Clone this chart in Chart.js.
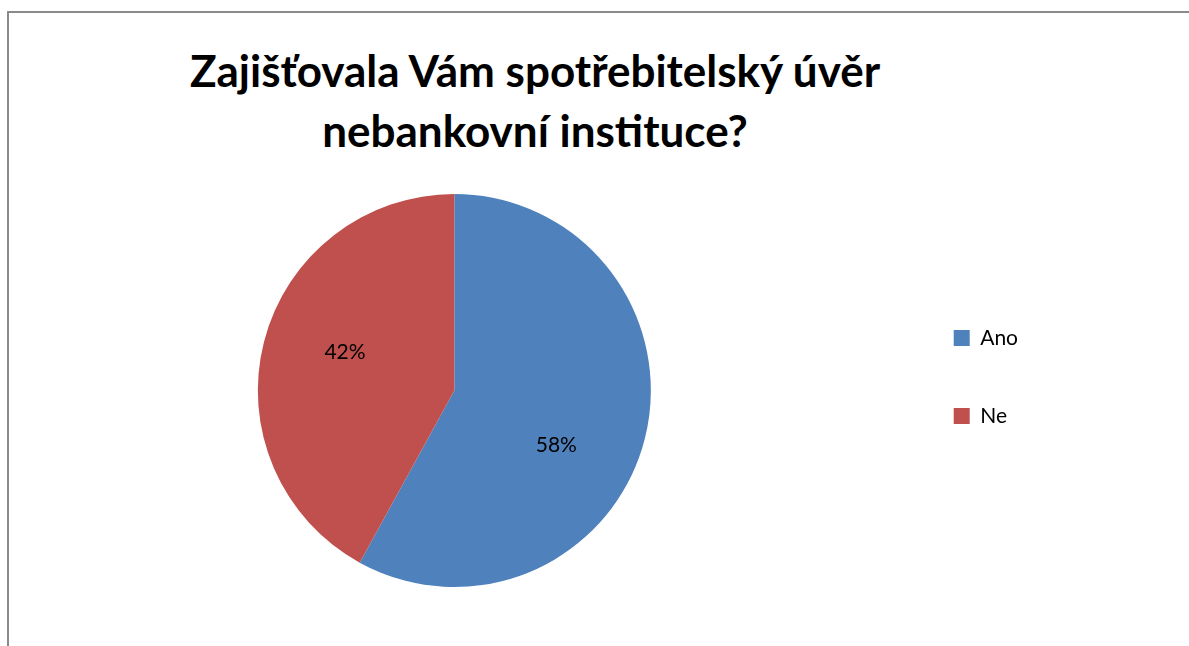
<!DOCTYPE html>
<html>
<head>
<meta charset="utf-8">
<script src="https://cdn.jsdelivr.net/npm/chart.js@4/dist/chart.umd.min.js"></script>
<style>
  body { margin: 0; background: #fff; }
  #ramecek {
    position: absolute; left: 7px; top: 11px; right: 0; bottom: 0;
    border-top: 2px solid #8a8a8a; border-left: 2px solid #8a8a8a;
  }
  #nadpis {
    position: absolute; left: 0; top: 40px; width: 1070px;
    text-align: center; font-family: Lato, sans-serif; font-weight: bold;
    font-size: 44px; line-height: 60px; color: #000;
  }
  canvas { position: absolute; left: 0; top: 0; }
</style>
</head>
<body>
<div id="ramecek"></div>
<div id="nadpis">Zajišťovala Vám spotřebitelský úvěr<br>nebankovní instituce?</div>
<canvas id="graf" width="1189" height="646"></canvas>
<script>
const odpovedi = ["Ano", "Ne"];
const procenta = [58, 42];
const barvy = ["#4F81BD", "#C0504D"];

// popisky procent uvnitr vysecí
const popisky = {
  id: "popisky",
  afterDatasetsDraw(chart, args, opts) {
    const ctx = chart.ctx;
    const meta = chart.getDatasetMeta(0);
    ctx.save();
    ctx.font = "21px Lato, sans-serif";
    ctx.fillStyle = "#000";
    ctx.textAlign = "center";
    ctx.textBaseline = "middle";
    meta.data.forEach((arc, i) => {
      const uhel = (arc.startAngle + arc.endAngle) / 2 + opts.posun[i] * Math.PI / 180;
      const r = arc.outerRadius * opts.pomer;
      ctx.fillText(procenta[i] + "%", arc.x + Math.cos(uhel) * r, arc.y + Math.sin(uhel) * r);
    });
    ctx.restore();
  }
};

const ctx = document.getElementById("graf").getContext("2d");
new Chart(ctx, {
  type: "pie",
  data: {
    labels: odpovedi,
    datasets: [{
      data: procenta,
      backgroundColor: barvy,
      borderWidth: 0
    }]
  },
  options: {
    responsive: false,
    animation: false,
    layout: { padding: { left: 12, right: 161, top: 194, bottom: 59 } },
    plugins: {
      tooltip: { enabled: false },
      legend: {
        position: "right",
        align: "start",
        title: { display: true, text: "", padding: { top: 62, bottom: 0 } },
        labels: {
          boxWidth: 16,
          boxHeight: 16,
          padding: 57,
          color: "#000",
          font: { family: "Lato, sans-serif", size: 21 }
        }
      },
      popisky: { pomer: 0.59, posun: [14, 5] }
    }
  },
  plugins: [popisky]
});
</script>
</body>
</html>
